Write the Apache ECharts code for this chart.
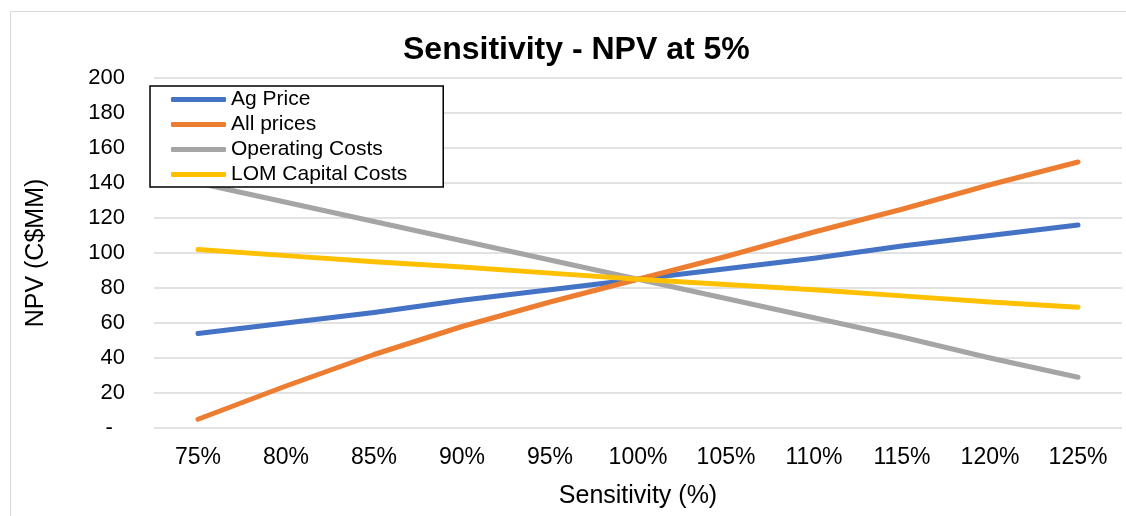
<!DOCTYPE html>
<html lang="en">
<head>
    <meta charset="UTF-8">
    <title>Sensitivity - NPV at 5%</title>
    <style>
        html, body { margin: 0; padding: 0; background: #fff; }
        #main { width: 1126px; height: 516px; }
    </style>
</head>
<body>
<div id="main"></div>
<script src="https://cdn.jsdelivr.net/npm/echarts@6/dist/echarts.min.js"></script>
<script>
    var categories = ['75%', '80%', '85%', '90%', '95%', '100%', '105%', '110%', '115%', '120%', '125%'];
    var agPrice = [54, 60, 66, 73, 79, 85, 91, 97, 104, 110, 116];
    var allPrices = [5, 24, 42, 58, 72, 85, 98, 112, 125, 139, 152];
    var operatingCosts = [140, 129, 118, 107, 96, 85, 74, 63, 52, 40, 29];
    var lomCapital = [102, 98.5, 95, 92, 88.5, 85, 82, 79, 75.5, 72, 69];

    var font = 'Liberation Sans, Arial, sans-serif';

    function lineSeries(name, data, color) {
        return {
            name: name,
            type: 'line',
            data: data,
            symbol: 'none',
            itemStyle: {color: color},
            lineStyle: {width: 5, color: color, cap: 'round', join: 'round'}
        };
    }

    var myChart = echarts.init(document.getElementById('main'));
    var option = {
        animation: false,
        backgroundColor: '#fff',
        textStyle: {fontFamily: font},
        // title sits a little right of the page centre, over the plot area
        title: {
            text: 'Sensitivity - NPV at 5%',
            left: 403,
            top: 34,
            padding: 0,
            textStyle: {fontFamily: font, fontSize: 32, fontWeight: 'bold', color: '#000'}
        },
        graphic: [{
            type: 'rect',
            shape: {x: 10.5, y: 11.5, width: 1130, height: 520},
            style: {fill: 'none', stroke: '#d9d9d9', lineWidth: 1},
            silent: true,
            z: -10
        }],
        legend: {
            orient: 'vertical',
            left: 150,
            top: 86,
            padding: [1, 36, 0, 21],
            itemGap: 0,
            itemWidth: 55,
            itemHeight: 5,
            icon: 'roundRect',
            backgroundColor: '#fff',
            borderColor: '#000',
            borderWidth: 1.5,
            textStyle: {fontFamily: font, fontSize: 21, color: '#000', lineHeight: 25},
            data: ['Ag Price', 'All prices', 'Operating Costs', 'LOM Capital Costs']
        },
        grid: {left: 154, right: 4, top: 78, bottom: 88, containLabel: false},
        xAxis: {
            type: 'category',
            data: categories,
            boundaryGap: true,
            axisLine: {show: false},
            axisTick: {show: false},
            axisLabel: {fontFamily: font, fontSize: 23, color: '#000', margin: 18},
            name: 'Sensitivity (%)',
            nameLocation: 'middle',
            nameGap: 56,
            nameTextStyle: {fontFamily: font, fontSize: 25, color: '#000'}
        },
        yAxis: {
            type: 'value',
            min: 0,
            max: 200,
            interval: 20,
            axisLine: {show: false},
            axisTick: {show: false},
            splitLine: {lineStyle: {color: '#d9d9d9', width: 1.5}},
            axisLabel: {
                fontFamily: font, fontSize: 22, color: '#000', margin: 29,
                formatter: function (v) { return v === 0 ? '-  ' : String(v); }
            },
            name: 'NPV (C$MM)',
            nameLocation: 'middle',
            nameGap: 105,
            nameRotate: 90,
            nameTextStyle: {fontFamily: font, fontSize: 25, color: '#000'}
        },
        series: [
            lineSeries('Ag Price', agPrice, '#4472C4'),
            lineSeries('All prices', allPrices, '#ED7D31'),
            lineSeries('Operating Costs', operatingCosts, '#A5A5A5'),
            lineSeries('LOM Capital Costs', lomCapital, '#FFC000')
        ]
    };
    myChart.setOption(option);
</script>
</body>
</html>
